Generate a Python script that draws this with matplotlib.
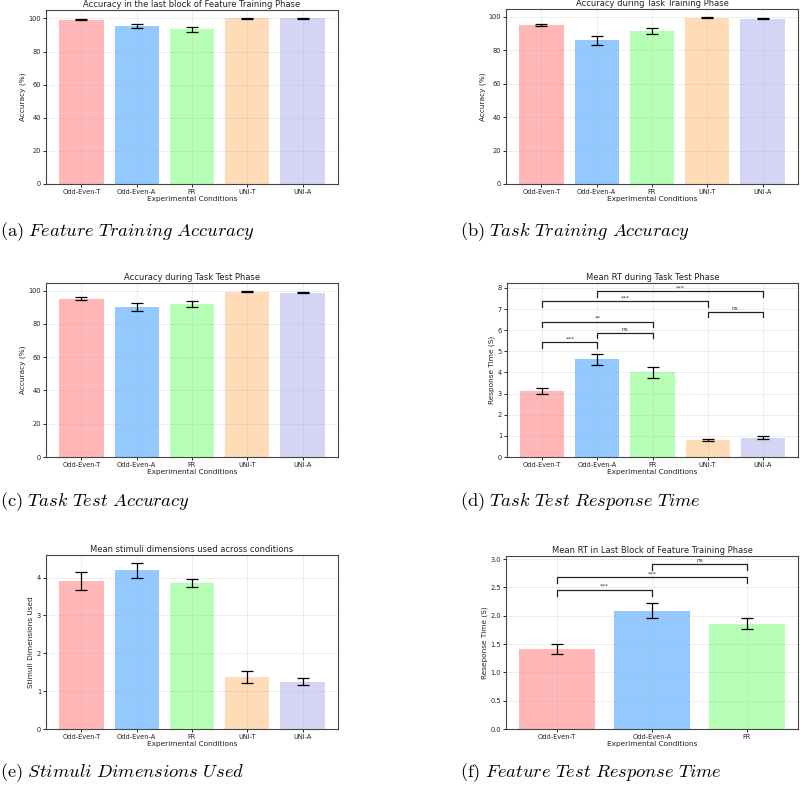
import matplotlib
matplotlib.use("Agg")
import matplotlib.pyplot as plt

plt.rcParams['mathtext.fontset'] = 'cm'

conditions = ["Odd-Even-T", "Odd-Even-A", "FR", "UNI-T", "UNI-A"]
colors = ['#FF9999', '#66B2FF', '#99FF99', '#FFCC99', '#C2C2F0']

# (a) accuracy in last block of feature training
feat_acc = [99.3, 95.7, 93.4, 100.0, 100.0]
feat_acc_err = [0.4, 1.2, 1.6, 0.1, 0.1]

# (b) accuracy during task training
train_acc = [95.0, 86.0, 91.5, 99.3, 98.9]
train_acc_err = [0.7, 2.7, 1.8, 0.3, 0.3]

# (c) accuracy during task test
test_acc = [95.2, 90.0, 92.0, 99.4, 98.8]
test_acc_err = [1.1, 2.3, 1.7, 0.2, 0.3]

# (d) RT during task test
test_rt = [3.13, 4.63, 4.00, 0.80, 0.90]
test_rt_err = [0.14, 0.26, 0.24, 0.04, 0.07]
test_rt_sig = [(0, 1, 5.42, "***"), (1, 2, 5.88, "ns"), (0, 2, 6.40, "**"),
               (3, 4, 6.87, "ns"), (0, 3, 7.36, "***"), (1, 4, 7.84, "***")]
test_rt_leg = 0.27

# (e) stimuli dimensions used
dims = [3.91, 4.19, 3.85, 1.37, 1.25]
dims_err = [0.23, 0.19, 0.11, 0.15, 0.09]

# (f) RT in last block of feature training
feat_conditions = ["Odd-Even-T", "Odd-Even-A", "FR"]
feat_rt = [1.42, 2.09, 1.86]
feat_rt_err = [0.09, 0.135, 0.095]
feat_rt_sig = [(0, 1, 2.46, "***"), (0, 2, 2.68, "***"), (1, 2, 2.91, "ns")]
feat_rt_leg = 0.11

W, H = 800, 786
fig = plt.figure(figsize=(8, 7.86), dpi=100)


def make_ax(x0, y0, x1, y1):
    return fig.add_axes([x0 / W, (H - y1) / H, (x1 - x0) / W, (y1 - y0) / H])


def bar_panel(ax, labels, vals, errs, title, ylabel):
    ax.bar(labels, vals, yerr=errs, color=colors[:len(labels)], alpha=0.7,
           capsize=4.3, error_kw={'elinewidth': 0.9, 'capthick': 0.9, 'ecolor': 'black'})
    ax.set_title(title, fontsize=6.0, pad=2, color='#222222')
    ax.set_xlabel("Experimental Conditions", fontsize=5.3, labelpad=1, color='#222222')
    ax.set_ylabel(ylabel, fontsize=5.3, labelpad=2, color='#222222')
    ax.tick_params(labelsize=4.8, length=2, width=0.6, pad=1.5, labelcolor='#222222')
    ax.grid(True, alpha=0.3, linewidth=0.5)
    for s in ax.spines.values():
        s.set_linewidth(0.8)
        s.set_color('#444444')


def brackets(ax, sig, leg):
    for i, j, y, lab in sig:
        ax.plot([i, i, j, j], [y - leg, y, y, y - leg], color='#222222', lw=0.9)
        ax.text((i + j) / 2, y + leg * 0.15, lab, ha='center', va='bottom',
                fontsize=4.2, color='#333333')


def caption(x, y, letter, text):
    words = text.replace(' ', r'\ ')
    fig.text(x / W, 1 - y / H, r"$\mathrm{(%s)}\ \mathit{%s}$" % (letter, words),
             fontsize=13.3, ha='left', va='center')


ax = make_ax(46, 10, 338, 184)
bar_panel(ax, conditions, feat_acc, feat_acc_err,
          "Accuracy in the last block of Feature Training Phase", "Accuracy (%)")

ax = make_ax(506, 9, 798, 184)
bar_panel(ax, conditions, train_acc, train_acc_err,
          "Accuracy during Task Training Phase", "Accuracy (%)")

ax = make_ax(46, 283, 338, 457)
bar_panel(ax, conditions, test_acc, test_acc_err,
          "Accuracy during Task Test Phase", "Accuracy (%)")

ax = make_ax(507, 283, 798, 457)
bar_panel(ax, conditions, test_rt, test_rt_err,
          "Mean RT during Task Test Phase", "Response Time (S)")
brackets(ax, test_rt_sig, test_rt_leg)

ax = make_ax(46, 555, 338, 729)
bar_panel(ax, conditions, dims, dims_err,
          "Mean stimuli dimensions used across conditions", "Stimuli Dimensions Used")

ax = make_ax(506, 556, 798, 729)
bar_panel(ax, feat_conditions, feat_rt, feat_rt_err,
          "Mean RT in Last Block of Feature Training Phase", "Reseponse Time (S)")
brackets(ax, feat_rt_sig, feat_rt_leg)

caption(0, 232, "a", "Feature Training Accuracy")
caption(460, 232, "b", "Task Training Accuracy")
caption(0, 502, "c", "Task Test Accuracy")
caption(460, 502, "d", "Task Test Response Time")
caption(0, 773, "e", "Stimuli Dimensions Used")
caption(460, 773, "f", "Feature Test Response Time")

fig.savefig("out.png", dpi=100)
